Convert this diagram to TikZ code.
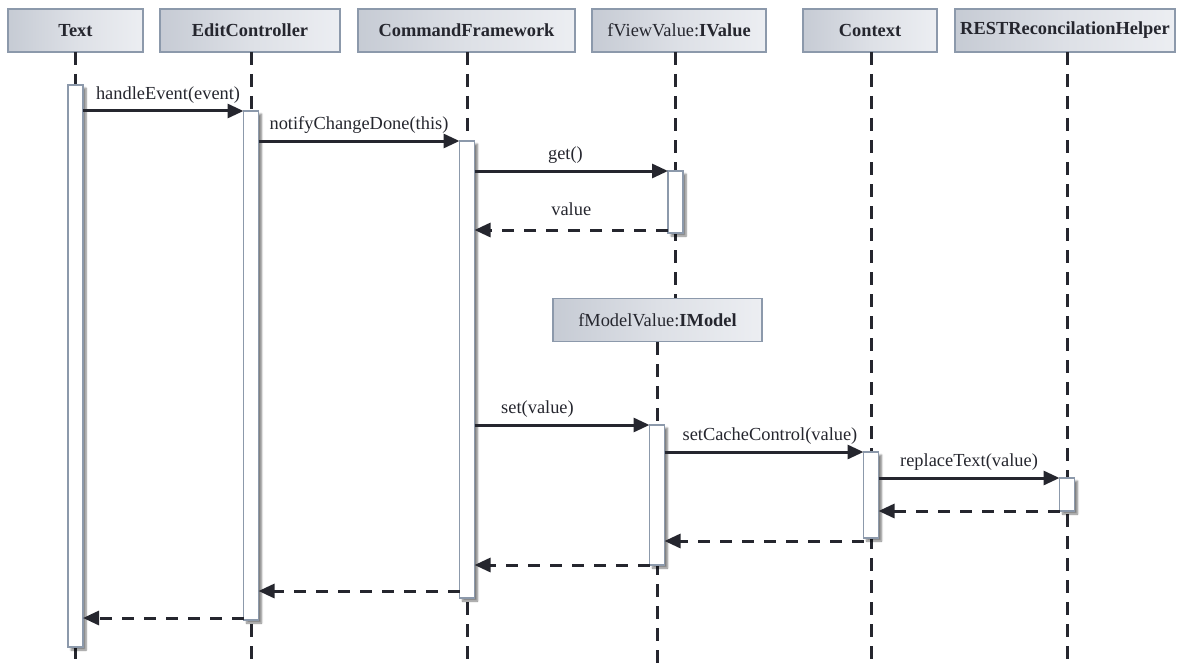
\documentclass[tikz,border=0pt]{standalone}
\usepackage{fontspec}
\setmainfont{Liberation Serif}
\usetikzlibrary{arrows.meta,shadows.blur}

\definecolor{ink}{HTML}{25262E}
\definecolor{frame}{HTML}{8C99AB}
\definecolor{hdrL}{HTML}{C6CBD4}
\definecolor{hdrM}{HTML}{DDE0E6}
\definecolor{hdrR}{HTML}{ECEEF2}

\begin{document}
\begin{tikzpicture}[x=1pt,y=-1pt,
  font=\fontsize{18.4}{22}\selectfont,
  header/.style={draw=frame, line width=1.4pt, left color=hdrL, right color=hdrR,
    middle color=hdrM, inner sep=0pt, minimum height=43, text=ink},
  act/.style={draw=frame, line width=1.4pt, fill=white, minimum width=15,
    inner sep=0pt, outer sep=0pt,
    blur shadow={shadow xshift=3pt, shadow yshift=-3pt, shadow blur steps=6,
      shadow opacity=50}},
  lifeline/.style={ink, line width=3pt, dash pattern=on 13pt off 9pt},
  msg/.style={ink, line width=3pt, -{Triangle[length=16pt,width=14pt]}},
  ret/.style={msg, dash pattern=on 12pt off 10pt},
  lbl/.style={text=ink, inner sep=1pt, above=5pt}
]
\useasboundingbox (0,0) rectangle (1177,666);
\coordinate (bot) at (0,666);

% participant headers
\node[header, minimum width=135] (hText) at (75.5,30.5) {\textbf{Text}};
\node[header, minimum width=180] (hEdit) at (250,30.5) {\textbf{EditController}};
\node[header, minimum width=217] (hCmd) at (466.5,30.5) {\textbf{CommandFramework}};
\node[header, minimum width=174] (hView) at (679,30.5) {fViewValue:\textbf{IValue}};
\node[header, minimum width=134] (hCtx) at (870,30.5) {\textbf{Context}};
\node[header, minimum width=220] (hRest) at (1065,30.5) {\textbf{RESTReconcilationHelper}};
\node[header, minimum width=209] (hModel) at (657.5,320) {fModelValue:\textbf{IModel}};

% lifeline tops
\coordinate (lText) at (75.5,52);
\coordinate (lEdit) at (251,52);
\coordinate (lCmd) at (467,52);
\coordinate (lView) at (675.5,52);
\coordinate (lCtx) at (871,52);
\coordinate (lRest) at (1067,52);
\coordinate (lModel) at (657,342);

% lifelines
\draw[lifeline] (lText) -- (lText |- bot);
\draw[lifeline] (lEdit) -- (lEdit |- bot);
\draw[lifeline] (lCmd) -- (lCmd |- bot);
\draw[lifeline] (lView) -- (lView |- hModel.north);
\draw[lifeline] (lCtx) -- (lCtx |- bot);
\draw[lifeline] (lRest) -- (lRest |- bot);
\draw[lifeline] (lModel) -- (lModel |- bot);

% activation bars
\node[act, minimum height=562] (aText) at (75.5,366) {};
\node[act, minimum height=509] (aEdit) at (251,365.5) {};
\node[act, minimum height=457] (aCmd) at (467,369.5) {};
\node[act, minimum height=62] (aView) at (675.5,202) {};
\node[act, minimum height=140] (aModel) at (657,495) {};
\node[act, minimum height=86] (aCtx) at (871,495) {};
\node[act, minimum height=33] (aRest) at (1067,494.5) {};

% calls
\draw[msg] (aText.east |- aEdit.north) -- node[lbl, pos=0.53] {handleEvent(event)} (aEdit.north west);
\draw[msg] (aEdit.east |- aCmd.north) -- node[lbl] {notifyChangeDone(this)} (aCmd.north west);
\draw[msg] (aCmd.east |- aView.north) -- node[lbl, pos=0.47] {get()} (aView.north west);
\draw[msg] (aCmd.east |- aModel.north) -- node[lbl, pos=0.36] {set(value)} (aModel.north west);
\draw[msg] (aModel.east |- aCtx.north) -- node[lbl, pos=0.53] {setCacheControl(value)} (aCtx.north west);
\draw[msg] (aCtx.east |- aRest.north) -- node[lbl] {replaceText(value)} (aRest.north west);

% returns
\coordinate (r1) at ([yshift=3pt]aView.south west);
\draw[ret] (r1) -- node[lbl, above=7pt] {value} (aCmd.east |- r1);
\coordinate (r2) at (aRest.south west);
\draw[ret] (r2) -- (aCtx.east |- r2);
\coordinate (r3) at ([yshift=-3pt]aCtx.south west);
\draw[ret] (r3) -- (aModel.east |- r3);
\coordinate (r4) at (aModel.south west);
\draw[ret] (r4) -- (aCmd.east |- r4);
\coordinate (r5) at ([yshift=7pt]aCmd.south west);
\draw[ret] (r5) -- (aEdit.east |- r5);
\coordinate (r6) at ([yshift=2pt]aEdit.south west);
\draw[ret] (r6) -- (aText.east |- r6);
\end{tikzpicture}
\end{document}
